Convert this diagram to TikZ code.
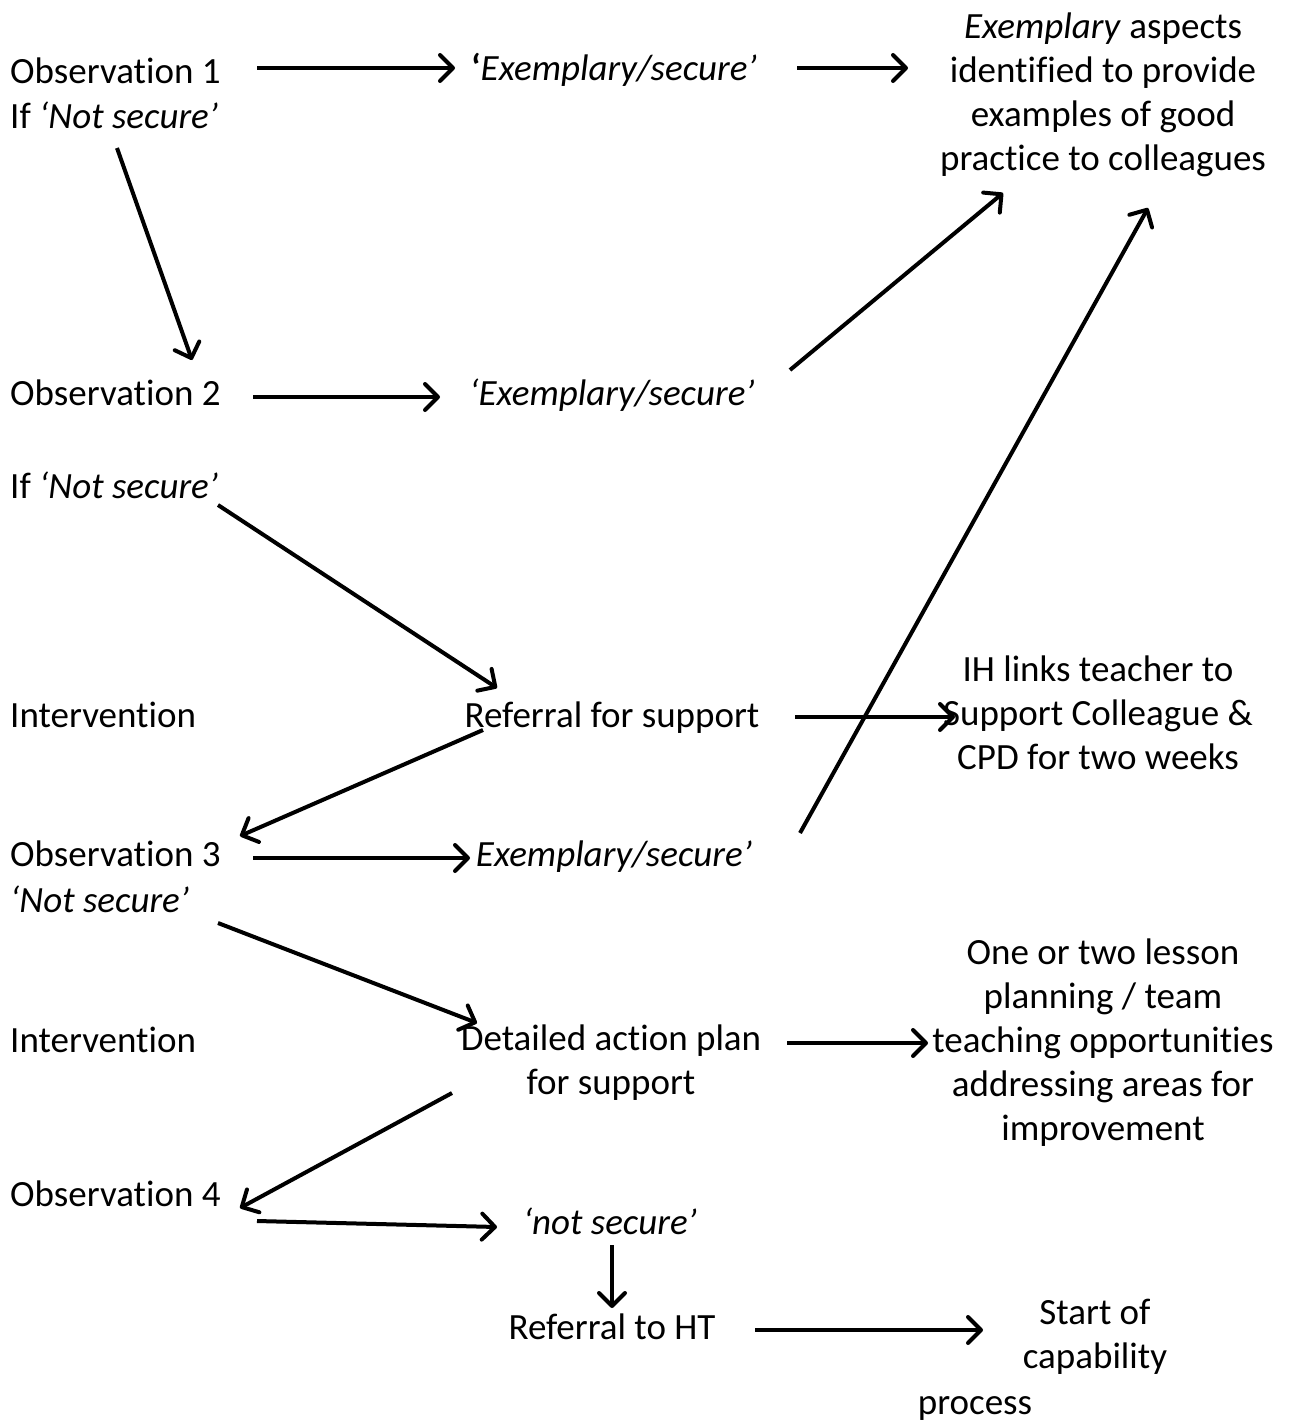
\documentclass[tikz,border=0pt]{standalone}
\usepackage{fontspec}
\setmainfont{Carlito}[Ligatures=NoCommon]
\usetikzlibrary{arrows.meta}
\begin{document}
\begin{tikzpicture}[x=1pt,y=-1pt,
  txt/.style={font=\fontsize{37}{44}\selectfont, inner sep=0pt},
  lft/.style={txt, anchor=base west},
  mid/.style={txt, anchor=base},
  blk/.style={txt, align=center, anchor=center},
  arr/.style={line width=4pt, -{Straight Barb[length=13pt,width=26pt,line width=4pt,round]}}]
\useasboundingbox (0,0) rectangle (1289,1421);
% left column
\node[lft] (obs1) at (10,83) {Observation 1};
\node[lft] (if1) at (10,128) {If \textit{‘Not secure’}};
\node[lft] (obs2) at (10,405) {Observation 2};
\node[lft] (if2) at (10,498) {If \textit{‘Not secure’}};
\node[lft] (int1) at (10,727) {Intervention};
\node[lft] (obs3) at (10,866) {Observation 3};
\node[lft] (ns3) at (10,912) {\textit{‘Not secure’}};
\node[lft] (int2) at (10,1052) {Intervention};
\node[lft] (obs4) at (10,1206) {Observation 4};
% middle column
\node[mid] (ex1) at (614,81) {\textbf{‘}\textit{Exemplary/secure’}};
\node[mid] (ex2) at (612,405) {\textit{‘Exemplary/secure’}};
\node[mid] (ref) at (612,727) {Referral for support};
\node[mid] (ex3) at (614,866) {\textit{Exemplary/secure’}};
\node[blk] (dap) at (611,1063) {Detailed action plan\\for support};
\node[mid] (ns4) at (610,1234) {\textit{‘not secure’}};
\node[mid] (rht) at (612,1339) {Referral to HT};
% right column
\node[blk] (good) at (1103,95) {\textit{Exemplary} aspects\\identified to provide\\examples of good\\practice to colleagues};
\node[blk] (ih) at (1098,713) {IH links teacher to\\Support Colleague \&\\CPD for two weeks};
\node[blk] (opp) at (1103,1043) {One or two lesson\\planning / team\\teaching opportunities\\addressing areas for\\improvement};
\node[blk] (cap) at (1095,1337) {Start of\\capability};
\node[mid] (proc) at (975,1414) {process};
% arrow end points
\coordinate (a1s) at (257,68);  \coordinate (a1e) at (455,68);
\coordinate (a2s) at (797,68);  \coordinate (a2e) at (908,68);
\coordinate (a3s) at (117,148); \coordinate (a3e) at (192,360);
\coordinate (a4s) at (253,397); \coordinate (a4e) at (440,397);
\coordinate (a5s) at (790,370); \coordinate (a5e) at (1003,193);
\coordinate (a6s) at (218,505); \coordinate (a6e) at (497,688);
\coordinate (a7s) at (795,717); \coordinate (a7e) at (955,717);
\coordinate (a8s) at (800,833); \coordinate (a8e) at (1148,208);
\coordinate (a9s) at (483,730); \coordinate (a9e) at (240,836);
\coordinate (a10s) at (253,858); \coordinate (a10e) at (470,858);
\coordinate (a11s) at (218,923); \coordinate (a11e) at (477,1023);
\coordinate (a12s) at (787,1043); \coordinate (a12e) at (928,1043);
\coordinate (a13s) at (452,1093); \coordinate (a13e) at (240,1208);
\coordinate (a14s) at (257,1221); \coordinate (a14e) at (497,1227);
\coordinate (a15s) at (612,1245); \coordinate (a15e) at (612,1308);
\coordinate (a16s) at (755,1330); \coordinate (a16e) at (983,1330);
\foreach \i in {1,...,16} {\draw[arr] (a\i s) -- (a\i e);}
\end{tikzpicture}
\end{document}
